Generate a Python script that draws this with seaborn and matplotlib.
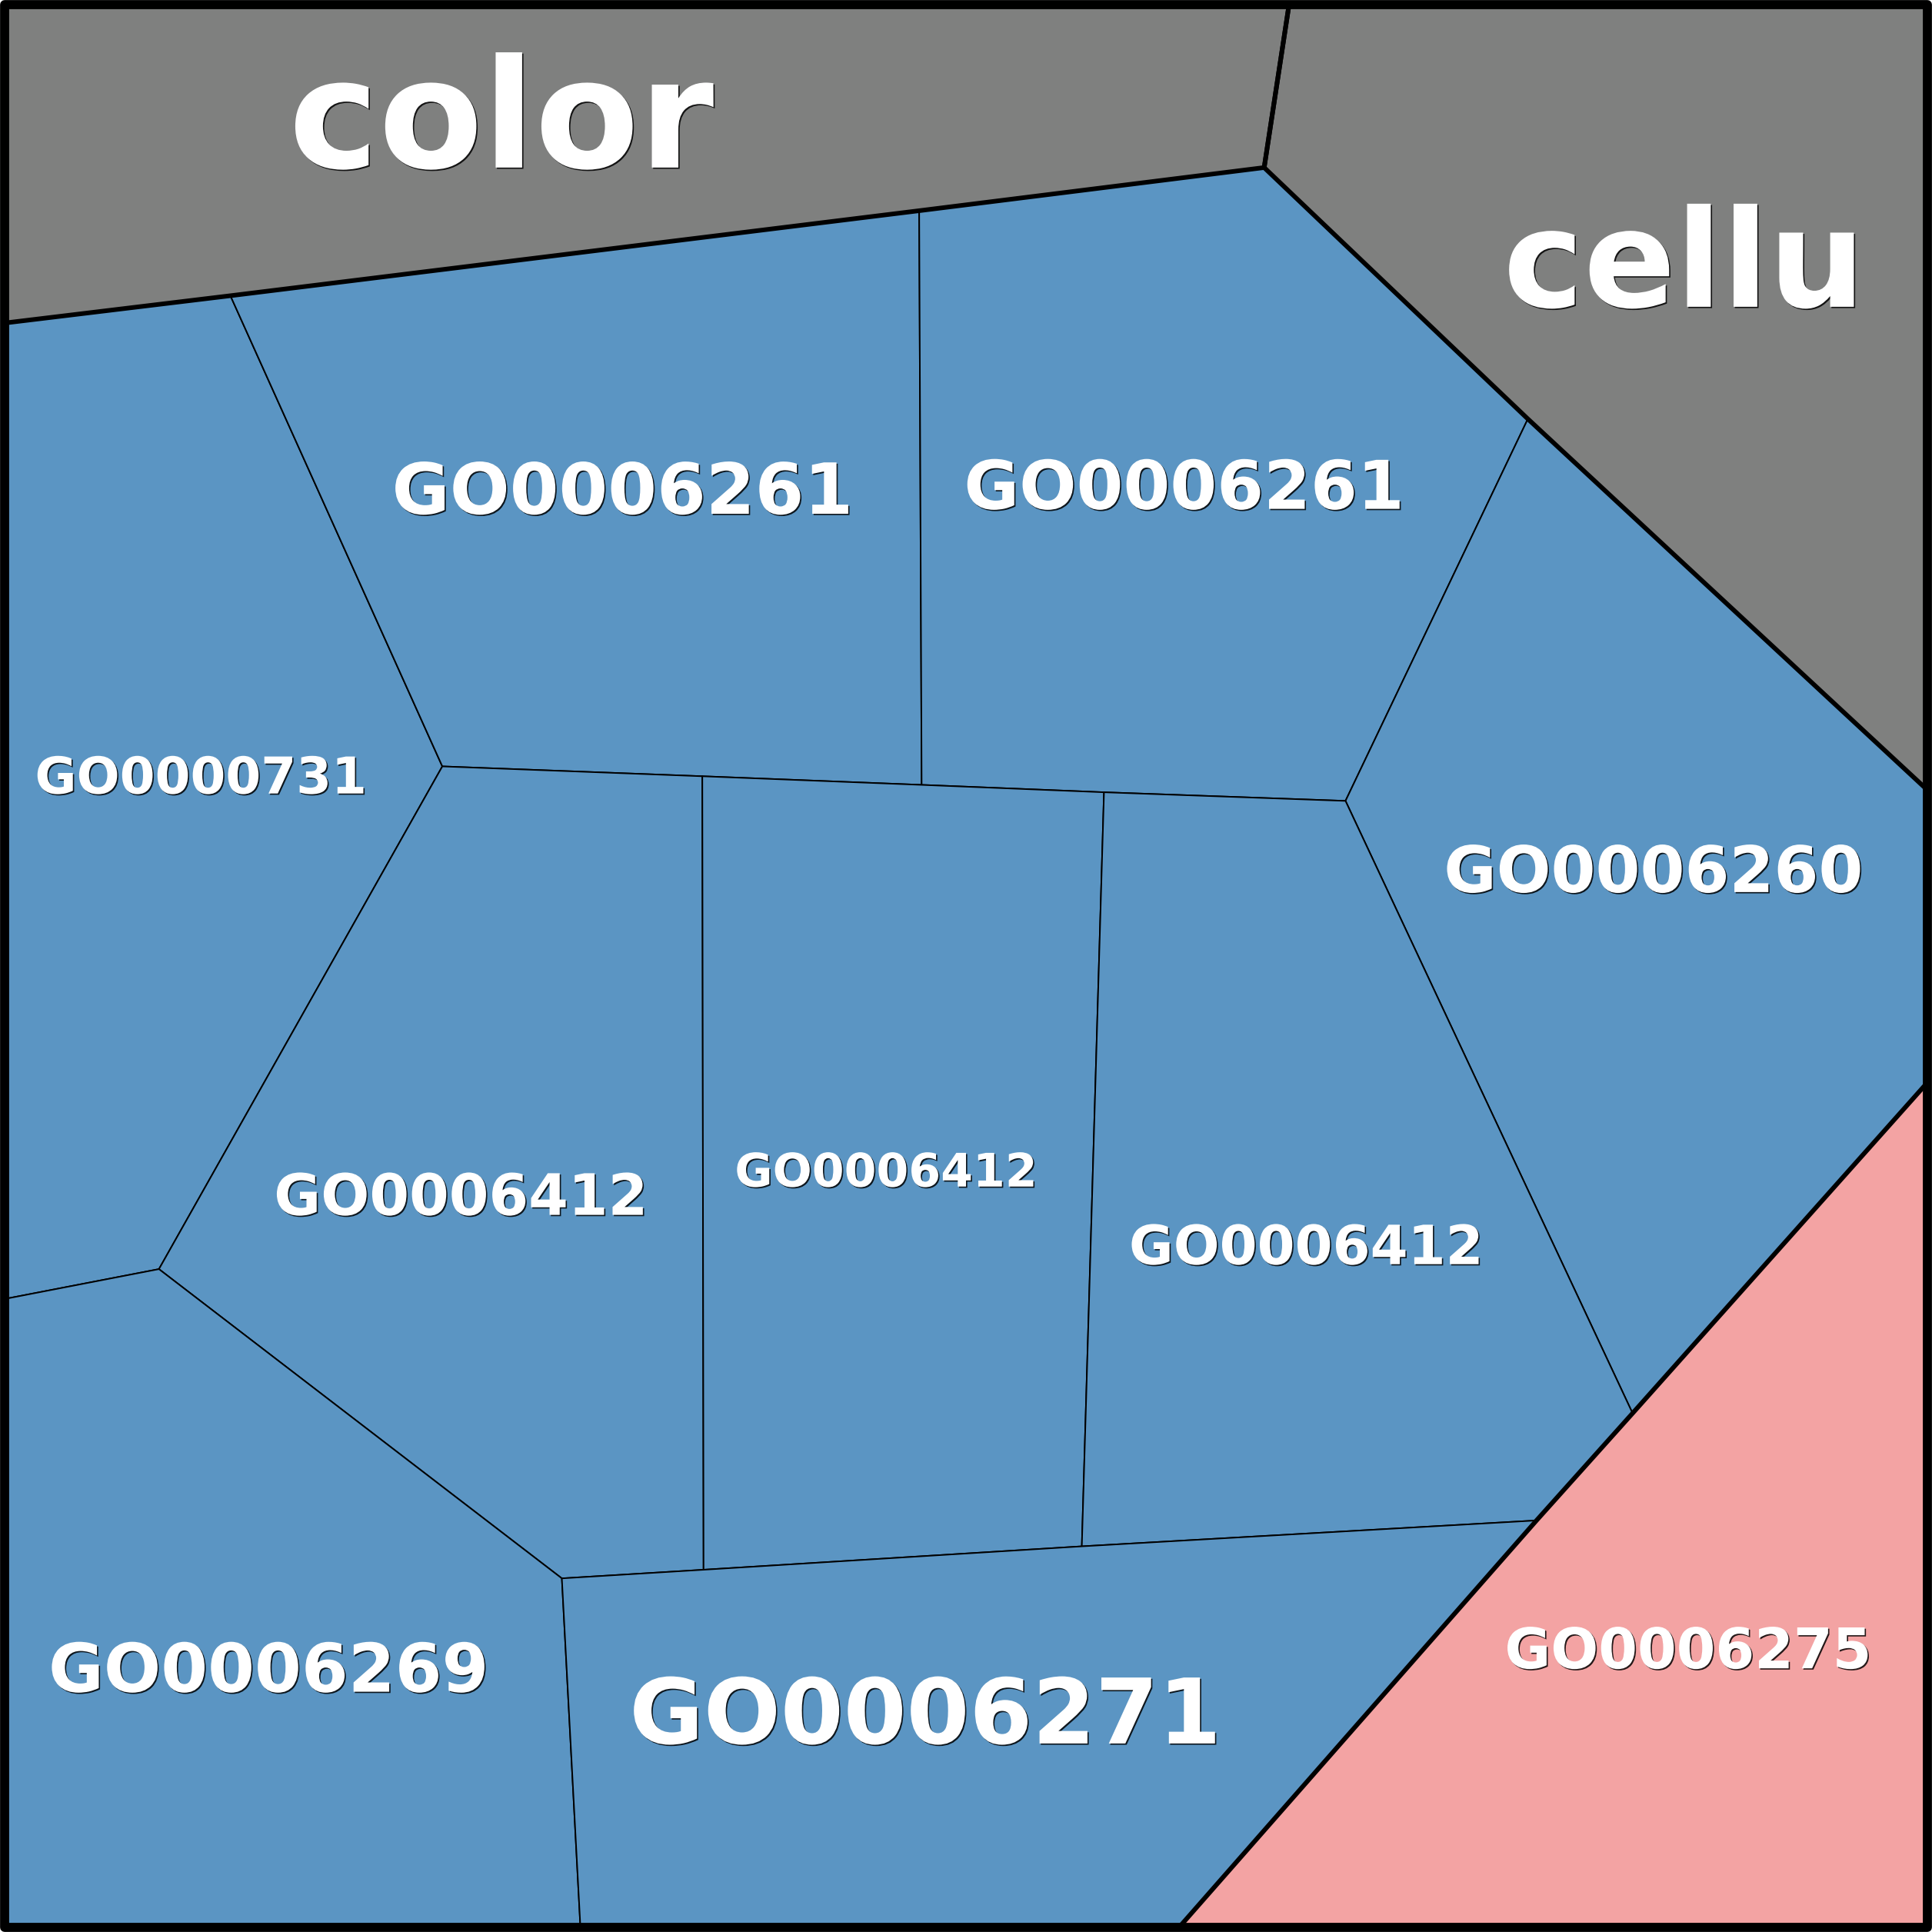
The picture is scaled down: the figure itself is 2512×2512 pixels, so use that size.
import matplotlib
matplotlib.use("Agg")
import matplotlib.pyplot as plt
import matplotlib.patheffects as pe
from matplotlib.patches import Polygon
import seaborn as sns

# cell outlines (pixel units of a 1568 wide view, y down)
cell_names = ["color", "cellu", "GO0006275", "GO0000731", "GO0006261", "GO0006261",
              "GO0006260", "GO0006412", "GO0006412", "GO0006412", "GO0006269", "GO0006271"]
cell_groups = ["color", "cellu", "pink", "blue", "blue", "blue",
               "blue", "blue", "blue", "blue", "blue", "blue"]
cell_shapes = [
    [(5, 5), (1046, 5), (1026, 136), (746, 171), (187, 240), (5, 262)],
    [(1046, 5), (1563, 5), (1563, 640), (1240, 340), (1026, 136)],
    [(1563, 880), (1563, 1563), (958, 1563), (1247, 1234), (1325, 1147)],
    [(5, 262), (187, 240), (359, 622), (129, 1030), (5, 1054)],
    [(187, 240), (746, 171), (748, 637), (570, 630), (359, 622)],
    [(746, 171), (1026, 136), (1240, 340), (1092, 650), (896, 643), (748, 637)],
    [(1240, 340), (1563, 640), (1563, 880), (1325, 1147), (1092, 650)],
    [(359, 622), (570, 630), (571, 1274), (456, 1281), (129, 1030)],
    [(570, 630), (748, 637), (896, 643), (878, 1255), (571, 1274)],
    [(896, 643), (1092, 650), (1325, 1147), (1247, 1234), (878, 1255)],
    [(5, 1054), (129, 1030), (456, 1281), (471, 1563), (5, 1563)],
    [(456, 1281), (571, 1274), (878, 1255), (1247, 1234), (958, 1563), (471, 1563)],
]
label_pos = [(407, 136), (1367, 249), (1370, 1354), (163, 644), (505, 417), (961, 413),
             (1342, 724), (374, 986), (719, 963), (1060, 1026), (218, 1373), (751, 1415)]
label_size = [142, 127, 52.5, 47.5, 66, 63, 60, 53.5, 43.3, 50.7, 63, 84.7]

group_colors = {"color": "#7f807f", "cellu": "#7f807f", "pink": "#f3a3a3", "blue": "#5b95c3"}

sns.set_theme(style="white")
plt.rcParams['font.family'] = ['DejaVu Sans']

fig = plt.figure(figsize=(25.12, 25.12), dpi=100)
ax = fig.add_axes([0, 0, 1, 1])
ax.set_xlim(0, 1568)
ax.set_ylim(1568, 0)
ax.axis("off")

for shape, grp in zip(cell_shapes, cell_groups):
    ax.add_patch(Polygon(shape, closed=True, facecolor=group_colors[grp],
                         edgecolor="black", linewidth=1.4, joinstyle="miter"))

# heavier outlines around the top-level groups
for shape, grp in zip(cell_shapes, cell_groups):
    if grp != "blue":
        ax.add_patch(Polygon(shape, closed=True, facecolor="none",
                             edgecolor="black", linewidth=4.3, joinstyle="miter"))

ax.add_patch(Polygon([(4, 4), (1564, 4), (1564, 1564), (4, 1564)], closed=True,
                     facecolor="none", edgecolor="black", linewidth=8.5,
                     joinstyle="round"))

for name, (x, y), fs in zip(cell_names, label_pos, label_size):
    ax.text(x, y, name, ha="center", va="baseline", fontsize=fs,
            fontweight="bold", color="white",
            path_effects=[pe.withSimplePatchShadow(offset=(1.2, -1.2),
                                                   shadow_rgbFace="black", alpha=0.85)])

fig.savefig("out.png", dpi=100)
